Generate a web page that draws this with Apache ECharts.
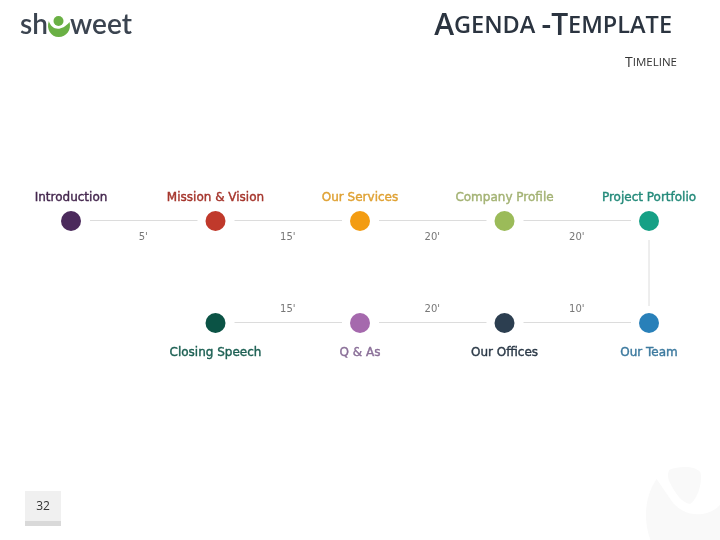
<!DOCTYPE html>
<html style="height: 100%">
<head>
<meta charset="utf-8">
<script src="https://cdn.jsdelivr.net/npm/echarts@6/dist/echarts.min.js"></script>
</head>
<body style="height: 100%; margin: 0; background: #fff">
<div id="container" style="width: 720px; height: 540px"></div>
<script>
// stops, in the order the timeline runs
var stopNames = ['Introduction', 'Mission & Vision', 'Our Services', 'Company Profile', 'Project Portfolio', 'Our Team', 'Our Offices', 'Q & As', 'Closing Speech'];
var stopColumns = [0, 1, 2, 3, 4, 4, 3, 2, 1];
var stopRows = [0, 0, 0, 0, 0, 1, 1, 1, 1];
var stopColors = ['#4b2a5c', '#c0392b', '#f39c12', '#9bbb59', '#16a085', '#2980b9', '#2c3e50', '#a569ad', '#0b5345'];
var labelColors = ['#45284f', '#a5352c', '#dfa133', '#a3b273', '#248a7a', '#3d7a9f', '#2c3a48', '#8a6f98', '#1b5f52'];
// minutes between a stop and the next one, the vertical link has none
var minutes = ["5'", "15'", "20'", "20'", '', "10'", "20'", "15'"];
var columns = ['c0', 'c1', 'c2', 'c3', 'c4'];
var rows = ['r0', 'r1'];

var font = '"DejaVu Sans", sans-serif';
var points = stopNames.map(function (name, i) {
    return {
        name: name,
        value: [stopColumns[i], stopRows[i]],
        itemStyle: { color: stopColors[i], opacity: 1 },
        label: {
            color: labelColors[i],
            textBorderColor: labelColors[i],
            textBorderWidth: 0.4,
            position: stopRows[i] == 0 ? 'top' : 'bottom',
            distance: stopRows[i] == 0 ? 7 : 14
        }
    };
});
var links = minutes.map(function (m, i) {
    return [stopColumns[i], stopRows[i], stopColumns[i + 1], stopRows[i + 1], m];
});

function renderLink(params, api) {
    var a = api.coord([api.value(0), api.value(1)]);
    var b = api.coord([api.value(2), api.value(3)]);
    var text = api.value(4);
    var line;
    if (a[0] == b[0]) {
        line = { x1: a[0], y1: a[1] + 19, x2: b[0], y2: b[1] - 17 };
    } else {
        var left = Math.min(a[0], b[0]), right = Math.max(a[0], b[0]);
        var y = Math.round(a[1]) - 0.5;
        line = { x1: left + 19, y1: y, x2: right - 18, y2: y };
    }
    var children = [{
        type: 'line', shape: line,
        style: { stroke: '#dcdcdc', lineWidth: 1 }
    }];
    if (text) {
        children.push({
            type: 'text',
            x: (a[0] + b[0]) / 2,
            y: a[1] + (api.value(1) == 0 ? 16 : -14),
            style: { text: text, fill: '#777', font: '10px ' + font, align: 'center', verticalAlign: 'middle' }
        });
    }
    return { type: 'group', children: children };
}

// watermark and the green mark of the logo, both plain page decoration
function renderDecor() {
    return {
        type: 'group',
        children: [
            { type: 'path', shape: { pathData: 'M658 479 C646 497 645 520 652 540 L720 540 L720 505 C706 520 682 516 672 500 Z', layout: 'cover', x: 646, y: 479, width: 74, height: 61 }, style: { fill: '#f9f9f9' } },
            { type: 'path', shape: { pathData: 'M670 470 C680 466 696 466 700 473 C702 485 696 500 690 504 C682 503 676 494 671 484 C668 478 668 473 670 470 Z', layout: 'cover', x: 668, y: 467, width: 33, height: 37 }, style: { fill: '#f9f9f9' } },
            { type: 'path', shape: { pathData: 'M49 21 C51 29 60 33 69 22 C71 30 66 37 58.5 37 C51 37 46 29 49 21 Z', layout: 'cover', x: 48, y: 21, width: 22, height: 16 }, style: { fill: '#6ab044' } },
            { type: 'circle', shape: { cx: 58.5, cy: 21, r: 5 }, style: { fill: '#6ab044' } }
        ]
    };
}

var myChart = echarts.init(document.getElementById('container'));
myChart.setOption({
    animation: false,
    backgroundColor: '#fff',
    title: [{
        text: '{big|A}{small|GENDA }{big|-}{big|T}{small|EMPLATE}',
        right: 43, top: 6,
        textStyle: {
            rich: {
                big: { fontFamily: '"Open Sans"', fontSize: 30, color: '#2b3440', fontWeight: 600 },
                small: { fontFamily: '"Open Sans"', fontSize: 23.5, color: '#2b3440', fontWeight: 600 }
            }
        }
    }, {
        text: '{big|T}{small|IMELINE}',
        right: 38, top: 51,
        textStyle: {
            fontWeight: 'normal',
            rich: {
                big: { fontFamily: '"Open Sans"', fontSize: 14, color: '#333', fontWeight: 'normal' },
                small: { fontFamily: '"Open Sans"', fontSize: 11.5, color: '#333', fontWeight: 'normal' }
            }
        }
    }],
    grid: { left: 71, right: 71, top: 221, bottom: 217 },
    xAxis: { type: 'category', data: columns, boundaryGap: false, show: false },
    yAxis: { type: 'category', data: rows, boundaryGap: false, inverse: true, show: false },
    series: [{
        type: 'custom',
        coordinateSystem: 'none',
        renderItem: renderDecor,
        data: [0],
        silent: true,
        z: 0
    }, {
        type: 'custom',
        renderItem: renderLink,
        encode: { x: [0, 2], y: [1, 3] },
        data: links,
        silent: true
    }, {
        type: 'scatter',
        symbolSize: 20,
        data: points,
        label: {
            show: true,
            formatter: '{b}',
            fontFamily: font,
            fontSize: 12
        }
    }],
    graphic: [
        // page number box
        { type: 'rect', shape: { x: 25, y: 491, width: 36, height: 30 }, style: { fill: '#f0f0f0' } },
        { type: 'rect', shape: { x: 25, y: 521, width: 36, height: 5 }, style: { fill: '#d9d9d9' } },
        { type: 'text', x: 43, y: 507, style: { text: '32', fill: '#333', font: '12px "Open Sans"', align: 'center', verticalAlign: 'middle' } },
        // logo
        { type: 'text', x: 20, y: 25, style: { text: 'sh', fill: '#3b4450', font: '600 28px Lato', verticalAlign: 'middle' } },
        { type: 'text', x: 70, y: 25, style: { text: 'weet', fill: '#3b4450', font: '600 28px Lato', verticalAlign: 'middle' } }
    ]
});
</script>
</body>
</html>
